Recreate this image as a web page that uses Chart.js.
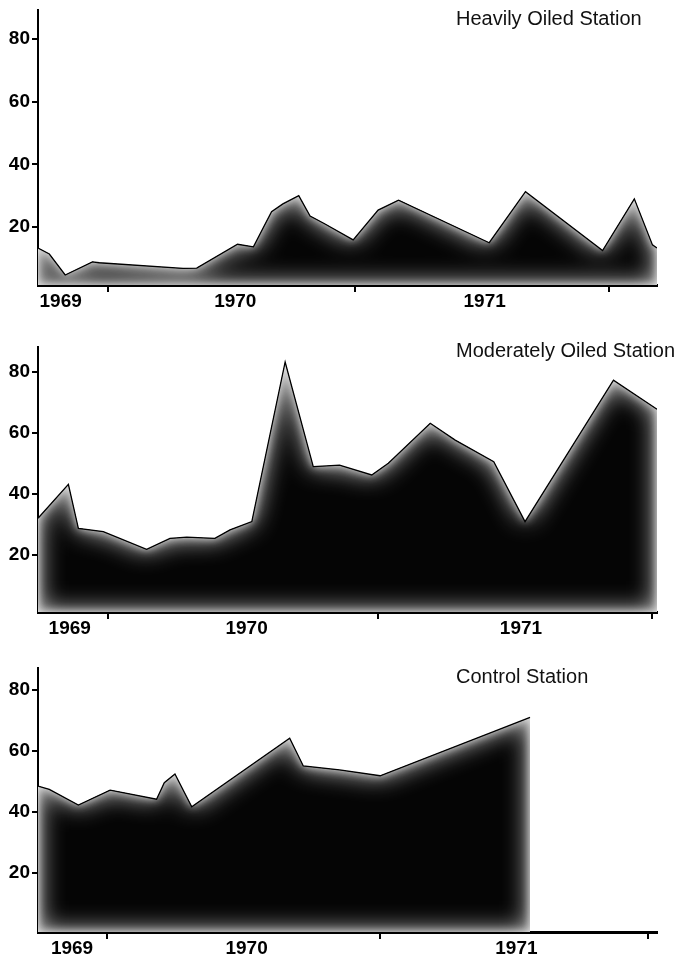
<!DOCTYPE html>
<html>
<head>
<meta charset="utf-8">
<title>Oiled stations</title>
<script src="https://cdn.jsdelivr.net/npm/chart.js@4.4.1/dist/chart.umd.min.js"></script>
<style>
  body { margin: 0; background: #fff; width: 682px; height: 957px; position: relative; overflow: hidden; }
  .panel { position: absolute; left: 0; width: 682px; }
  .title { position: absolute; left: 456px; font: 20px/20px 'Liberation Sans', Arial, sans-serif; color: #111; white-space: nowrap; }
</style>
</head>
<body>
<div class="panel" style="top:0;height:310px"><canvas id="heavy"></canvas></div>
<div class="panel" style="top:330px;height:307px"><canvas id="moderate"></canvas></div>
<div class="panel" style="top:650px;height:307px"><canvas id="control"></canvas></div>
<div class="title" style="top:8px">Heavily Oiled Station</div>
<div class="title" style="top:340px">Moderately Oiled Station</div>
<div class="title" style="top:666px">Control Station</div>

<script>
// x values are months counted from the left edge of the axis
const years = ["1969", "1970", "1971"];
const yTicks = [20, 40, 60, 80];
const monthsShown = 27.3;

const heavyMonths = [0, 0.5, 1.2, 2.4, 2.7, 6.4, 7.0, 8.8, 9.5, 10.3, 10.8, 11.5, 12.0, 12.6, 13.9, 15.0, 15.9, 19.9, 21.5, 24.9, 26.3, 27.1, 27.3];
const heavyValues = [13.3, 11.4, 4.7, 8.9, 8.6, 6.8, 6.9, 14.5, 13.7, 24.9, 27.4, 30.0, 23.5, 21.2, 15.9, 25.4, 28.6, 15.0, 31.3, 12.5, 29.0, 14.3, 13.3];
const heavyYearTicks = [3.1, 14.0, 25.2];
const heavyYearLabelAt = [1.0, 8.7, 19.7];

const moderateMonths = [0, 1.34, 1.78, 2.88, 4.79, 5.82, 6.56, 7.8, 8.47, 9.43, 10.9, 12.14, 13.3, 14.72, 15.45, 17.3, 18.4, 20.1, 21.48, 25.38, 27.3];
const moderateValues = [32.0, 43.1, 28.7, 27.6, 21.8, 25.4, 25.8, 25.4, 28.2, 30.9, 83.2, 48.9, 49.4, 46.2, 50.0, 63.1, 57.6, 50.5, 30.9, 77.2, 67.7];
const moderateYearTicks = [3.1, 15.0, 27.1];
const moderateYearLabelAt = [1.4, 9.2, 21.3];

const controlMonths = [0, 0.5, 1.78, 3.18, 5.23, 5.57, 6.04, 6.78, 11.1, 11.7, 13.3, 15.09, 21.7];
const controlValues = [48.5, 47.4, 42.3, 47.2, 44.2, 49.6, 52.5, 41.7, 64.2, 55.1, 53.8, 51.9, 71.0];
const controlYearTicks = [3.05, 15.1, 26.9];
const controlYearLabelAt = [1.5, 9.2, 21.1];

const tickFont = { family: "'Liberation Sans', Arial, sans-serif", size: 19, weight: "bold", lineHeight: 1 };

// soft light edge inside the filled area, drawn right after the filler
const innerGlow = {
    id: "innerGlow",
    beforeDatasetDraw(chart, args) {
        const pts = args.meta.data;
        if (!pts.length) return;
        const base = chart.chartArea.bottom;
        const ctx = chart.ctx;

        const shape = new Path2D();
        shape.moveTo(pts[0].x, base);
        pts.forEach(p => shape.lineTo(p.x, p.y));
        shape.lineTo(pts[pts.length - 1].x, base);
        shape.closePath();

        const frame = new Path2D();
        frame.rect(-2000, -2000, chart.width + 4000, chart.height + 4000);
        frame.addPath(shape);

        ctx.save();
        ctx.clip(shape);
        ctx.fillStyle = "#000";
        ctx.shadowColor = "rgba(225,225,225,1)";
        ctx.shadowBlur = 26;
        ctx.fill(frame, "evenodd");
        ctx.shadowBlur = 9;
        ctx.fill(frame, "evenodd");
        ctx.restore();
    }
};

function stationChart(id, months, values, yMin, yMax, markAt, labelAt, padTop) {
    const points = months.map((m, i) => ({ x: m, y: values[i] }));

    // year labels sit between the tick marks, so they get their own (unmarked) ticks
    const labelFor = {};
    labelAt.forEach((v, i) => { labelFor[v] = years[i]; });
    const xTickValues = markAt.concat(labelAt).sort((a, b) => a - b);

    const ctx = document.getElementById(id).getContext("2d");

    return new Chart(ctx, {
        type: "line",
        data: {
            datasets: [{
                data: points,
                borderColor: "#000",
                borderWidth: 1.3,
                backgroundColor: "#050505",
                fill: "start",
                tension: 0,
                pointRadius: 0
            }]
        },
        options: {
            responsive: true,
            maintainAspectRatio: false,
            animation: false,
            layout: { padding: { top: padTop, right: 25, left: 0, bottom: 0 } },
            plugins: { legend: { display: false }, tooltip: { enabled: false } },
            scales: {
                x: {
                    type: "linear",
                    min: 0,
                    max: monthsShown,
                    afterBuildTicks: s => { s.ticks = xTickValues.map(v => ({ value: v })); },
                    afterFit: s => { s.height = 25; s.paddingLeft = 0; s.paddingRight = 0; },
                    border: { color: "#000", width: 3 },
                    grid: {
                        drawOnChartArea: false,
                        tickLength: 7,
                        lineWidth: 2,
                        tickColor: c => (labelFor[c.tick.value] ? "rgba(0,0,0,0)" : "#000")
                    },
                    ticks: {
                        autoSkip: false,
                        maxRotation: 0,
                        padding: 0,
                        color: "#000",
                        font: tickFont,
                        callback: v => labelFor[v] || ""
                    }
                },
                y: {
                    min: yMin,
                    max: yMax,
                    afterBuildTicks: s => { s.ticks = yTicks.map(v => ({ value: v })); },
                    afterFit: s => { s.width = 38; s.paddingTop = 0; s.paddingBottom = 0; },
                    border: { color: "#000", width: 2 },
                    grid: { drawOnChartArea: false, tickLength: 6, lineWidth: 2, tickColor: "#000" },
                    ticks: { padding: 2, color: "#000", font: tickFont }
                }
            }
        },
        plugins: [innerGlow]
    });
}

stationChart("heavy", heavyMonths, heavyValues, 1.5, 89.3, heavyYearTicks, heavyYearLabelAt, 10);
stationChart("moderate", moderateMonths, moderateValues, 1.3, 88.1, moderateYearTicks, moderateYearLabelAt, 17);
stationChart("control", controlMonths, controlValues, 0.7, 87.2, controlYearTicks, controlYearLabelAt, 18);
</script>
</body>
</html>
